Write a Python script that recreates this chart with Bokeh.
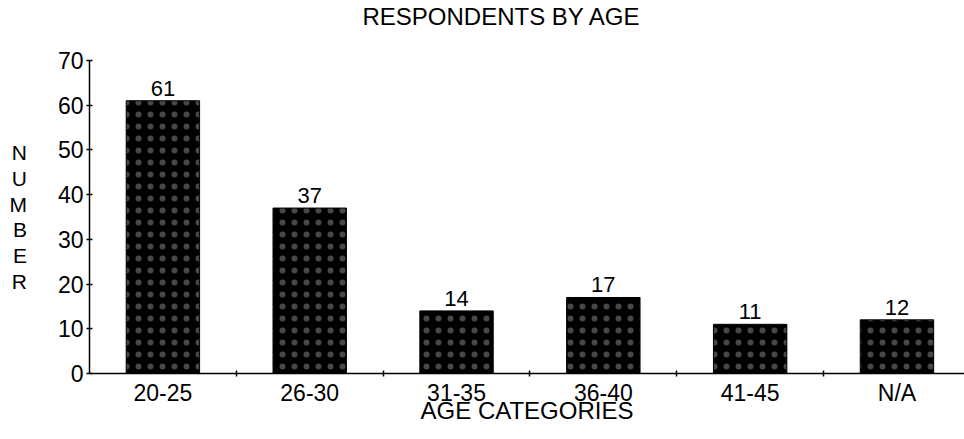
from bokeh.plotting import figure
from bokeh.models import ColumnDataSource, Range1d, FixedTicker, Title
from bokeh.embed import file_html
from bokeh.resources import INLINE

# Respondents counted in each age bracket
categories = ["20-25", "26-30", "31-35", "36-40", "41-45", "N/A"]
counts = [61, 37, 14, 17, 11, 12]
y_ticks = [0, 10, 20, 30, 40, 50, 60, 70]

FONT = "Liberation Sans"

positions = list(range(len(categories)))
source = ColumnDataSource(dict(
    x=positions,
    count=counts,
    label=[str(c) for c in counts],
))

p = figure(
    width=964, height=439,
    x_range=Range1d(-0.5, 5.46), y_range=Range1d(0, 70),
    output_backend="svg", toolbar_location=None,
    min_border_left=89, min_border_right=0,
    min_border_top=59, min_border_bottom=66,
)
p.outline_line_color = None
p.xgrid.visible = False
p.ygrid.visible = False
p.background_fill_color = "white"
p.border_fill_color = "white"

# black bars with a light speckle
p.vbar(x="x", top="count", width=0.5, source=source,
       fill_color="black", line_color="black", line_width=1,
       hatch_pattern="dot", hatch_color="white", hatch_scale=12,
       hatch_weight=0.45, hatch_alpha=0.28)

# value labels above each bar
p.text(x="x", y="count", text="label", source=source,
       text_align="center", text_baseline="bottom", y_offset=-5,
       text_font={"value": FONT}, text_font_size="22px", text_color="black")

# title; the blank second line lifts it towards the top of the canvas
p.title = Title(text="RESPONDENTS BY AGE\n ", align="left", offset=273,
                text_font=FONT, text_font_size="24px",
                text_font_style="normal", text_color="black",
                text_line_height=1.14, standoff=0)

# x axis: labels at bar centres, tick marks between categories
xa = p.xaxis[0]
xa.ticker = FixedTicker(ticks=positions,
                        minor_ticks=[i + 0.5 for i in positions])
xa.major_label_overrides = {i: c for i, c in zip(positions, categories)}
xa.major_tick_in = 0
xa.major_tick_out = 0
xa.minor_tick_in = 3
xa.minor_tick_out = 3
xa.minor_tick_line_color = "black"
xa.minor_tick_line_width = 1.5
xa.axis_line_color = "black"
xa.axis_line_width = 1.5
xa.major_label_standoff = 3
xa.major_label_text_font = FONT
xa.major_label_text_font_size = "23px"
xa.major_label_text_color = "black"
xa.axis_label = "AGE CATEGORIES"
xa.axis_label_text_font = FONT
xa.axis_label_text_font_size = "24px"
xa.axis_label_text_font_style = "normal"
xa.axis_label_text_color = "black"
xa.axis_label_standoff = -12

# y axis
ya = p.yaxis[0]
ya.ticker = FixedTicker(ticks=y_ticks)
ya.major_tick_in = 3
ya.major_tick_out = 3
ya.major_tick_line_width = 1.5
ya.minor_tick_line_color = None
ya.axis_line_color = "black"
ya.axis_line_width = 1.5
ya.major_label_standoff = 3
ya.major_label_text_font = FONT
ya.major_label_text_font_size = "23px"
ya.major_label_text_color = "black"
ya.axis_label = "\n".join("NUMBER")
ya.axis_label_orientation = "horizontal"
ya.axis_label_text_font = FONT
ya.axis_label_text_font_size = "21px"
ya.axis_label_text_font_style = "normal"
ya.axis_label_text_color = "black"
ya.axis_label_text_line_height = 1.12
ya.axis_label_standoff = 28

open("out.html", "w").write(file_html(p, INLINE))
